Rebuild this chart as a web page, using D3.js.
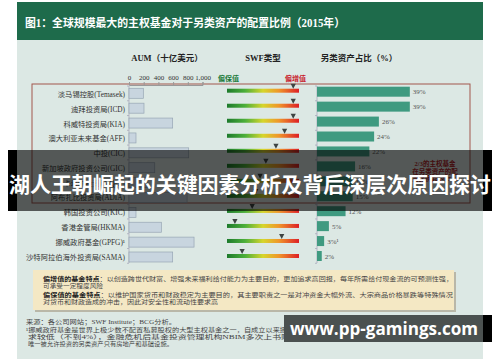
<!DOCTYPE html>
<html><head><meta charset="utf-8">
<script src="https://cdn.jsdelivr.net/npm/d3@7"></script>
<style>html,body{margin:0;padding:0;background:#fff;}svg{display:block;}</style>
</head><body>
<script>
const fundNames = ["淡马锡控股(Temasek)","迪拜投资局(ICD)","科威特投资局(KIA)","澳大利亚未来基金(AFF)","中投(CIC)","新加坡政府投资公司(GIC)","卡塔尔投资局(QIA)","阿布扎比投资局(ADIA)","韩国投资公司(KIC)","香港金管局(HKMA)","挪威政府基金(GPFG)¹","沙特阿拉伯海外投资局(SAMA)"];
const aumValues = [195, 204, 594, 95, 812, 350, 256, 790, 95, 440, 885, 594];
const swfType = [92, 92, 92, 80, 68, 54, 46, 40, 35, 11, 76, 21];
const altShare = [39, 39, 26, 24, 22, 16, 15, 15, 12, 5, 3, 2];
const shareLabels = ["39%","39%","26%","24%","22%","16%","15%","15%","12%","5%","3%¹","2%"];
const aumTicks = [0, 200, 400, 600, 800, 1000];
const aumTickLabels = ["0","200","400","600","800","1,000"];

const W = 500, H = 362;
const CJK = "'Liberation Serif','Noto Sans CJK SC',serif";
const SANS = "'Noto Sans CJK SC','Noto Sans',sans-serif";
const svg = d3.select("body").append("svg").attr("width", W).attr("height", H);

// panel
svg.append("rect").attr("x",17).attr("y",2).attr("width",466).attr("height",357).attr("fill","#dce8e4");
svg.append("rect").attr("x",17).attr("y",2).attr("width",466).attr("height",38).attr("fill","#1e6b4b");
svg.append("text").attr("x",25).attr("y",27).attr("fill","#fff").attr("font-size",11.5).attr("font-weight","bold")
  .attr("font-family",CJK).attr("textLength",320).attr("lengthAdjust","spacingAndGlyphs")
  .text("图1：全球规模最大的主权基金对于另类资产的配置比例（2015年）");

// column headers
const hdr = [["AUM（十亿美元）",167],["SWF类型",263],["另类资产占比（%）",359]];
svg.selectAll("text.hdr").data(hdr).join("text").attr("class","hdr")
  .attr("x",d=>d[1]).attr("y",61).attr("text-anchor","middle").attr("font-size",8.5).attr("font-weight","bold")
  .attr("fill","#222").attr("font-family",CJK).text(d=>d[0]);

// scales
const labelY = d3.scalePoint().domain(fundNames).range([94.5, 257]);
const aumY = d3.scalePoint().domain(fundNames).range([93.3, 257]);
const shareY = d3.scalePoint().domain(fundNames).range([91.7, 256]);
const gradY = d3.scalePoint().domain(fundNames).range([90.7, 256]);
const xAum = d3.scaleLinear().domain([0,1000]).range([129, 202.5]);
const xType = d3.scaleLinear().domain([0,100]).range([227, 299]);
const xShare = d3.scaleLinear().domain([0,40]).range([317, 412.2]);

// highlight box
svg.append("rect").attr("x",32).attr("y",84).attr("width",438).attr("height",119)
  .attr("fill","none").attr("stroke","#a2574c").attr("stroke-width",1);

// AUM axis
const axTop = svg.append("g").attr("transform","translate(0,85)")
  .call(d3.axisTop(xAum).tickValues(aumTicks).tickFormat((d,i)=>aumTickLabels[i]).tickSize(3).tickPadding(2));
axTop.select(".domain").attr("stroke","#999");
axTop.selectAll(".tick line").attr("stroke","#999");
axTop.selectAll("text").attr("font-size",7).attr("fill","#333").attr("font-family","'Liberation Serif',serif");

// left labels
svg.selectAll("text.lab").data(fundNames).join("text").attr("class","lab")
  .attr("x",125).attr("y",d=>labelY(d)+2.5).attr("text-anchor","end").attr("font-size",7.3)
  .attr("fill","#333").attr("font-family",CJK).text(d=>d);

// vertical axes
const step = labelY.step();
[129, 317].forEach(x=>{
  svg.append("line").attr("x1",x).attr("x2",x).attr("y1",86).attr("y2",263).attr("stroke","#aab").attr("stroke-width",0.8);
  svg.selectAll(null).data(d3.range(fundNames.length+1)).join("line")
    .attr("x1",x-2).attr("x2",x).attr("y1",i=>86+i*step).attr("y2",i=>86+i*step).attr("stroke","#aab").attr("stroke-width",0.8);
});

// AUM bars
svg.selectAll("rect.aum").data(fundNames).join("rect").attr("class","aum")
  .attr("x",xAum(0)).attr("y",d=>aumY(d)-5).attr("height",10)
  .attr("width",(d,i)=>xAum(aumValues[i])-xAum(0))
  .attr("fill","#c8d5df").attr("stroke","#97a6b4").attr("stroke-width",0.7);

// SWF type gradient
const defs = svg.append("defs");
const lg = defs.append("linearGradient").attr("id","swfg").attr("x1","0%").attr("x2","100%");
[["0%","#1d7a2c"],["25%","#4caf3a"],["50%","#d6d62c"],["72%","#f0962a"],["100%","#dd1f26"]]
  .forEach(s=>lg.append("stop").attr("offset",s[0]).attr("stop-color",s[1]));
svg.append("text").attr("x",218).attr("y",81).attr("font-size",7).attr("font-weight","bold").attr("fill","#1b7a3a").attr("font-family",CJK).text("偏保值");
svg.append("text").attr("x",285).attr("y",81).attr("font-size",7).attr("font-weight","bold").attr("fill","#c8202a").attr("font-family",CJK).text("偏增值");
svg.selectAll("rect.grad").data(fundNames).join("rect").attr("class","grad")
  .attr("x",xType(0)).attr("y",d=>gradY(d)-2).attr("width",xType(100)-xType(0)).attr("height",4)
  .attr("fill","url(#swfg)");
svg.selectAll("path.mk").data(fundNames).join("path").attr("class","mk")
  .attr("d",(d,i)=>{const x=xType(swfType[i]), y=gradY(d)-2; return `M${x-2.6},${y-5}L${x+2.6},${y-5}L${x},${y}Z`;})
  .attr("fill","#3d4442");

// share bars
svg.selectAll("rect.sh").data(fundNames).join("rect").attr("class","sh")
  .attr("x",xShare(0)).attr("y",d=>shareY(d)-5).attr("height",10)
  .attr("width",(d,i)=>xShare(altShare[i])-xShare(0)).attr("fill","#3f9a80");
svg.selectAll("text.shl").data(fundNames).join("text").attr("class","shl")
  .attr("x",(d,i)=>xShare(altShare[i])+3).attr("y",d=>shareY(d)+2.5).attr("font-size",7)
  .attr("fill","#555").attr("font-family","'Liberation Serif',serif").text((d,i)=>shareLabels[i]);

// 2/3 note
["2/3的主权基金","在另类资产的配","置比例超过15%"].forEach((t,i)=>
  svg.append("text").attr("x",435).attr("y",166+i*7.5).attr("text-anchor","middle").attr("font-size",6.5)
    .attr("font-weight","bold").attr("fill","#b0262a").attr("font-family",CJK).text(t));

// footnote box
svg.append("rect").attr("x",35).attr("y",272).attr("width",421).attr("height",40).attr("fill","#b9b7a8");
svg.append("rect").attr("x",33).attr("y",270).attr("width",421).attr("height",40).attr("fill","#f4e8c4");
const notes = [
  {b:"偏增值的基金特点", t:"：以创造跨世代财富、增强未来福利给付能力为主要目的，更加追求高回报，每年所需给付现金流的可预测性强，", y:280.5, L:410},
  {b:"", t:"可承受一定程度风险", y:287.5, L:60},
  {b:"偏保值的基金特点", t:"：以维护国家货币和财政稳定为主要目的，其主要职责之一是对冲资金大幅外流、大宗商品价格暴跌等特殊情况", y:296.5, L:410},
  {b:"", t:"对货币和财政造成的冲击，因此对安全性和流动性要求高", y:303.5, L:175}
];
notes.forEach(n=>{
  const tx = svg.append("text").attr("x",43).attr("y",n.y).attr("font-size",6).attr("fill","#444")
    .attr("font-family",CJK).attr("textLength",n.L).attr("lengthAdjust","spacingAndGlyphs");
  if(n.b) tx.append("tspan").attr("font-weight","bold").attr("fill","#222").text(n.b);
  tx.append("tspan").text(n.t);
});

// sources
const src = [
  ["来源：各公司网站；SWF Institute；BCG分析。",26,323.5,150],
  ["¹挪威政府基金是世界上极少数不配置私募股权的大型主权基金之一，自成立以来挪威政府一直保持着审慎的风险偏好，对于每年的财政支付要",26,331.5,448],
  ["求较低（不到4%），金融危机后基金投资管理机构NBIM多次上书财政部要求放开投资限制，但目前挪威政府基金",28,338.5,440],
  ["唯一被允许投资的另类资产只有房地产和基础设施。",28,345.5,145]
];
src.forEach(s=>svg.append("text").attr("x",s[1]).attr("y",s[2]).attr("font-size",6).attr("fill","#444")
  .attr("font-family",CJK).attr("textLength",s[3]).attr("lengthAdjust","spacingAndGlyphs").text(s[0]));

// banner overlay
svg.append("rect").attr("x",8).attr("y",150).attr("width",484).attr("height",61).attr("fill","#000").attr("opacity",0.62);
svg.append("rect").attr("x",8).attr("y",150).attr("width",9).attr("height",61).attr("fill","#000");
svg.append("rect").attr("x",483).attr("y",150).attr("width",9).attr("height",61).attr("fill","#000");
svg.append("text").attr("x",250).attr("y",192).attr("text-anchor","middle").attr("font-size",21).attr("font-weight","bold")
  .attr("fill","#fff").attr("font-family","'Noto Sans CJK SC',sans-serif").attr("textLength",482).attr("lengthAdjust","spacingAndGlyphs")
  .text("湖人王朝崛起的关键因素分析及背后深层次原因探讨");

// watermark
svg.append("rect").attr("x",284).attr("y",315).attr("width",199).attr("height",27).attr("fill","#4b5150");
svg.append("rect").attr("x",483).attr("y",315).attr("width",9).attr("height",27).attr("fill","#000");
svg.append("text").attr("x",290).attr("y",335).attr("font-size",18).attr("font-weight","bold").attr("fill","#fff")
  .attr("font-family","'Open Sans','DejaVu Sans',sans-serif").attr("textLength",188).attr("lengthAdjust","spacingAndGlyphs")
  .text("www.pp-gamings.com");
</script>
</body></html>
